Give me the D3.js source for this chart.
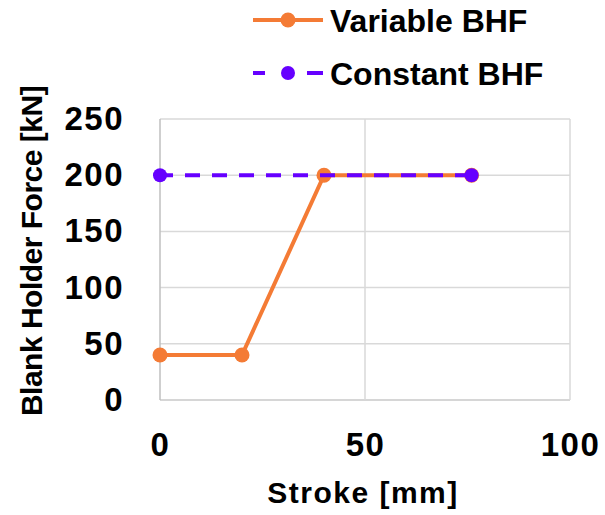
<!DOCTYPE html>
<html>
<head>
<meta charset="utf-8">
<script src="https://cdn.jsdelivr.net/npm/d3@7"></script>
<style>
  body { margin: 0; background: #fff; }
  text { font-family: "Liberation Sans", Arial, sans-serif; font-weight: bold; fill: #000; }
</style>
</head>
<body>
<div id="chart"></div>
<script>
const width = 605,
  height = 515,
  margin = { top: 119, bottom: 115, left: 160, right: 35 };

// data
const strokeVariable = [0, 20, 40, 76];
const forceVariable = [40, 40, 200, 200];
const strokeConstant = [0, 76];
const forceConstant = [200, 200];
const xTicks = [0, 50, 100];
const yTicks = [0, 50, 100, 150, 200, 250];

const seriesNames = ["Variable BHF", "Constant BHF"];
const seriesColors = ["#F47B35", "#6600FF"];

const svg = d3.select("#chart")
  .append("svg")
  .attr("width", width)
  .attr("height", height);

const x = d3.scaleLinear().domain([0, 100]).range([margin.left, width - margin.right]);
const y = d3.scaleLinear().domain([0, 250]).range([height - margin.bottom, margin.top]);

// gridlines
svg.append("g")
  .selectAll("line")
  .data(yTicks)
  .join("line")
  .attr("x1", x(0)).attr("x2", x(100))
  .attr("y1", d => y(d)).attr("y2", d => y(d))
  .attr("stroke", d => d === 0 ? "#c8c8c8" : "#d9d9d9")
  .attr("stroke-width", 1.5);

svg.append("g")
  .selectAll("line")
  .data(xTicks)
  .join("line")
  .attr("x1", d => x(d)).attr("x2", d => x(d))
  .attr("y1", y(0)).attr("y2", y(250))
  .attr("stroke", d => d === 0 ? "#bfbfbf" : "#d9d9d9")
  .attr("stroke-width", 1.5);

// axes (labels only)
const yAxis = svg.append("g")
  .attr("transform", `translate(${x(0)},0)`)
  .call(d3.axisLeft(y).tickValues(yTicks).tickSize(0).tickPadding(36));
yAxis.select(".domain").remove();
yAxis.selectAll("text")
  .attr("font-size", 33)
  .attr("letter-spacing", 1.5)
  .style("font-family", "Liberation Sans")
  .style("font-weight", "bold")
  .attr("fill", "#000");

const xAxis = svg.append("g")
  .attr("transform", `translate(0,${y(0)})`)
  .call(d3.axisBottom(x).tickValues(xTicks).tickSize(0).tickPadding(33));
xAxis.select(".domain").remove();
xAxis.selectAll("text")
  .attr("font-size", 33)
  .attr("letter-spacing", 1.5)
  .style("font-family", "Liberation Sans")
  .style("font-weight", "bold")
  .attr("fill", "#000");

// axis titles
svg.append("text")
  .attr("x", 363)
  .attr("y", 503)
  .attr("text-anchor", "middle")
  .attr("font-size", 30)
  .attr("letter-spacing", 1.5)
  .text("Stroke [mm]");

svg.append("text")
  .attr("transform", `translate(42,251) rotate(-90)`)
  .attr("text-anchor", "middle")
  .attr("font-size", 30)
  .attr("letter-spacing", -0.5)
  .text("Blank Holder Force [kN]");

// lines
const line = d3.line().x(d => x(d[0])).y(d => y(d[1]));

const variablePts = strokeVariable.map((s, i) => [s, forceVariable[i]]);
const constantPts = strokeConstant.map((s, i) => [s, forceConstant[i]]);

svg.append("path")
  .datum(variablePts)
  .attr("d", line)
  .attr("fill", "none")
  .attr("stroke", seriesColors[0])
  .attr("stroke-width", 4);

svg.selectAll(".dotVar")
  .data(variablePts)
  .join("circle")
  .attr("class", "dotVar")
  .attr("cx", d => x(d[0]))
  .attr("cy", d => y(d[1]))
  .attr("r", 7.5)
  .attr("fill", seriesColors[0]);

svg.append("path")
  .datum(constantPts)
  .attr("d", line)
  .attr("fill", "none")
  .attr("stroke", seriesColors[1])
  .attr("stroke-width", 4)
  .attr("stroke-dasharray", "15,12")
  .attr("stroke-dashoffset", 2);

svg.selectAll(".dotConst")
  .data(constantPts)
  .join("circle")
  .attr("class", "dotConst")
  .attr("cx", d => x(d[0]))
  .attr("cy", d => y(d[1]))
  .attr("r", 7)
  .attr("fill", seriesColors[1]);

// legend
const legend = svg.append("g")
  .selectAll("g")
  .data(seriesNames)
  .join("g")
  .attr("transform", (d, i) => `translate(253,${20 + i * 53})`);

legend.append("line")
  .attr("x1", 0).attr("x2", 70)
  .attr("stroke", (d, i) => seriesColors[i])
  .attr("stroke-width", 4)
  .attr("stroke-dasharray", (d, i) => i === 0 ? null : "12,42,16");

legend.append("circle")
  .attr("cx", 35)
  .attr("r", (d, i) => i === 0 ? 7.5 : 7)
  .attr("fill", (d, i) => seriesColors[i]);

legend.append("text")
  .attr("x", 77)
  .attr("y", 12)
  .attr("font-size", 32)
  .text(d => d);
</script>
</body>
</html>
